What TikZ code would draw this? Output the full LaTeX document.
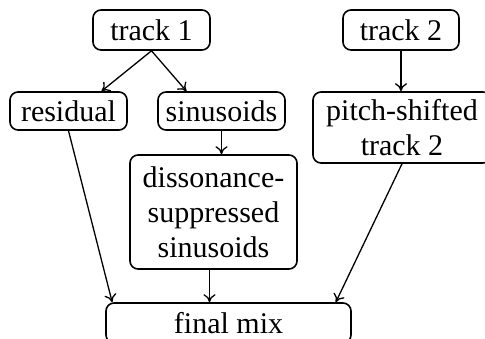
\documentclass[tikz,border=0pt]{standalone}
\usepackage{fontspec}
\setmainfont{Liberation Serif}
\usetikzlibrary{arrows.meta,calc}
\begin{document}
\begin{tikzpicture}[x=1pt,y=-1pt,
  box/.style={draw,line width=1.6pt,rounded corners=8pt,inner sep=0pt,align=center,
    font=\fontsize{30}{35}\selectfont},
  conn/.style={line width=1.3pt,-{To[length=8pt,width=12pt,line width=1.3pt]}}]
\useasboundingbox (0,0) rectangle (485,339);
\node[box,minimum width=117pt,minimum height=40pt] (t1) at (151.5,30) {track 1};
\node[box,minimum width=116pt,minimum height=40pt] (t2) at (401,30) {track 2};
\node[box,minimum width=117pt,minimum height=38pt] (res) at (68.5,111) {residual};
\node[box,minimum width=127pt,minimum height=38pt] (sin) at (221.5,111) {sinusoids};
\node[box,minimum width=178pt,minimum height=71pt] (ps) at (402,127.5) {pitch-shifted\\track 2};
\node[box,minimum width=167pt,minimum height=114pt] (dis) at (213.5,212) {dissonance-\\suppressed\\sinusoids};
\node[box,minimum width=245pt,minimum height=40pt] (fm) at (228.5,323) {final mix};
\draw[conn] (t1.south) -- ([xshift=33pt]res.north);
\draw[conn] (t1.south) -- ([xshift=-35pt]sin.north);
\draw[conn] (t2.south) -- (t2.south |- ps.north);
\draw[conn] (sin.south) -- (sin.south |- dis.north);
\draw[conn] (res.south) -- ([xshift=7pt]fm.north west);
\draw[conn] (ps.south) -- ([xshift=-16pt]fm.north east);
\draw[conn] ([xshift=-4pt]dis.south) -- ([xshift=-4pt]dis.south |- fm.north);
\end{tikzpicture}
\end{document}
